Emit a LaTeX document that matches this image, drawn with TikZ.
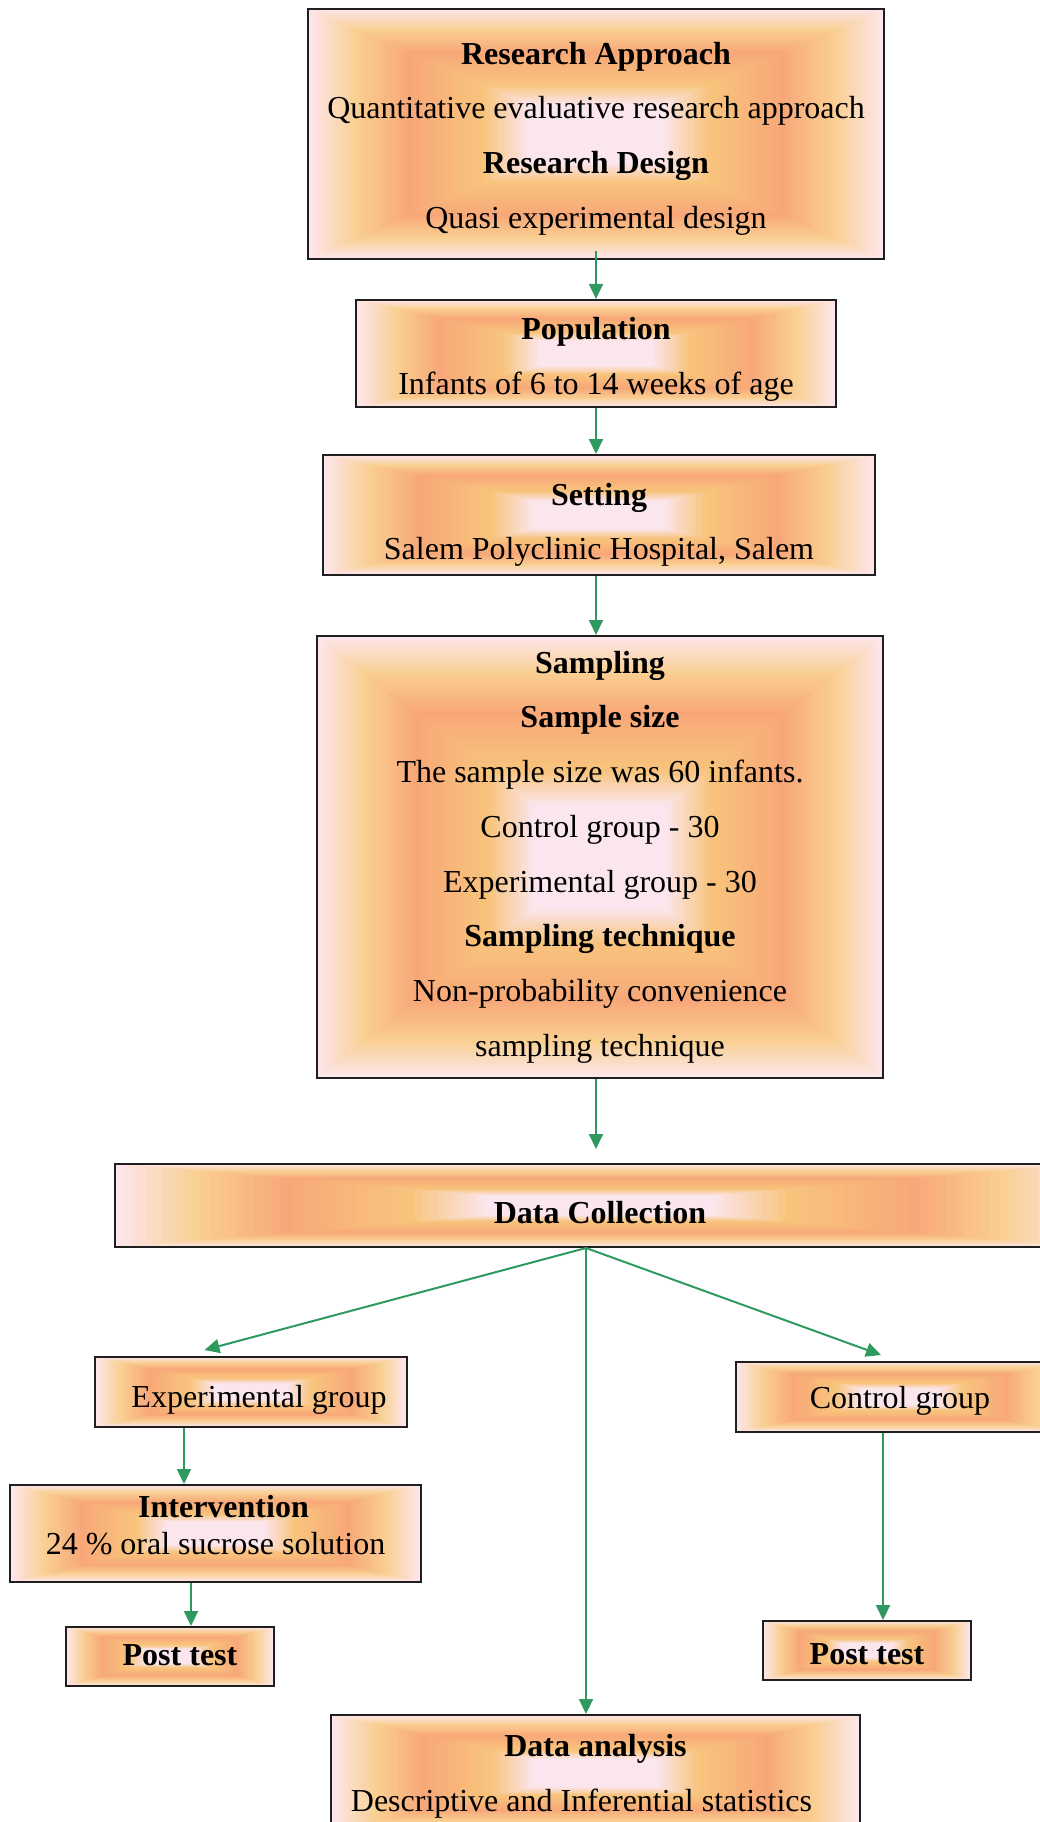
\documentclass[tikz,border=0pt]{standalone}
\usepackage{fontspec}
\setmainfont{Liberation Serif}
\usepackage{tikz}
\usetikzlibrary{arrows.meta,calc}

\definecolor{edgepink}{HTML}{FDE6EA}
\definecolor{peachlight}{HTML}{F9CF92}
\definecolor{salmon}{HTML}{F8A878}
\definecolor{peachwarm}{HTML}{F8C47C}
\definecolor{centerpink}{HTML}{FCE6EE}
\definecolor{flowgreen}{HTML}{2F9A5F}

\tikzset{
  peachbox/.style={draw=black!88, line width=2pt, inner sep=6pt, align=center,
    font=\fontsize{32}{54.7}\selectfont,
    path picture={
      \foreach \ta/\tb/\ca/\cb in {0/0.08/edgepink/peachlight,0.08/0.17/peachlight/salmon,
        0.17/0.30/salmon/peachwarm,0.30/0.38/peachwarm/centerpink,0.38/0.5/centerpink/centerpink}{
        \foreach \k in {0,...,9}{
          \pgfmathsetmacro\t{\ta+(\tb-\ta)*\k/10}
          \pgfmathtruncatemacro\p{100-\k*10}
          \fill[\ca!\p!\cb]
            ($(path picture bounding box.south west)!\t!(path picture bounding box.north east)$)
            rectangle
            ($(path picture bounding box.north east)!\t!(path picture bounding box.south west)$);
        }
      }
    }},
  % #1 = number of extra lines, #2 = how far the text goes down
  tdown/.style 2 args={text height={22pt+(#1)*54.7pt+2*(#2)}},
  flow/.style={draw=flowgreen, line width=2pt, -{Triangle[length=15pt,width=14pt]}}
}

\begin{document}
\begin{tikzpicture}[x=1pt, y=-1pt]
  \useasboundingbox (0,0) rectangle (1040,1822);

  % main column
  \node[peachbox, tdown={3}{4.6}, minimum width=576pt, minimum height=250pt] (ra) at (596,134)
    {\textbf{Research Approach}\\Quantitative evaluative research approach\\
     \textbf{Research Design}\\Quasi experimental design};
  \node[peachbox, tdown={1}{5.8}, minimum width=480pt, minimum height=107pt] (pop) at (596,353.5)
    {\textbf{Population}\\Infants of 6 to 14 weeks of age};
  \node[peachbox, tdown={1}{10}, minimum width=552pt, minimum height=120pt] (set) at (599,515)
    {\textbf{Setting}\\Salem Polyclinic Hospital, Salem};
  \node[peachbox, minimum width=566pt, minimum height=442pt] (samp) at (600,857)
    {\textbf{Sampling}\\\textbf{Sample size}\\The sample size was 60 infants.\\
     Control group - 30\\Experimental group - 30\\\textbf{Sampling technique}\\
     Non-probability convenience\\sampling technique};
  \node[peachbox, tdown={0}{7}, minimum width=970pt, minimum height=83pt] (dc) at (600,1205.5)
    {\textbf{Data Collection}};

  % groups
  \node[peachbox, tdown={0}{8}, minimum width=312pt, minimum height=70pt] (exp) at (251,1392)
    {\hspace*{16pt}Experimental group};
  \node[peachbox, tdown={0}{3.5}, minimum width=328pt, minimum height=70pt] (ctrl) at (900,1397)
    {Control group};
  \node[peachbox, text height={22pt+37pt-16pt}, minimum width=411pt, minimum height=97pt,
        font=\fontsize{32}{37}\selectfont] (int) at (215.5,1533.5)
    {\hspace*{16pt}\textbf{Intervention}\\24 \% oral sucrose solution};
  \node[peachbox, tdown={0}{-2}, minimum width=208pt, minimum height=59pt] (posta) at (170,1656.5)
    {\hspace*{20pt}\textbf{Post test}};
  \node[peachbox, tdown={0}{3.5}, minimum width=208pt, minimum height=59pt] (postb) at (867,1650.5)
    {\textbf{Post test}};
  \node[peachbox, tdown={1}{3.5}, minimum width=529pt, minimum height=116pt] (da) at (595.5,1773)
    {\textbf{Data analysis}\\\hspace*{-28pt}Descriptive and Inferential statistics};

  % connectors
  \draw[flow] ([yshift=9pt]ra.south) -- (ra.south |- pop.north);
  \draw[flow] (pop.south) -- (pop.south |- set.north);
  \draw[flow] (pop.south |- set.south) -- (pop.south |- samp.north);
  \draw[flow, shorten >=14pt] (ra.south |- samp.south) -- (ra.south |- dc.north);

  \coordinate (hub) at ([xshift=-14pt]dc.south);
  \draw[flow] (hub) -- ([xshift=-46.5pt,yshift=6pt]exp.north);
  \draw[flow] (hub) -- ([xshift=-19pt,yshift=6pt]ctrl.north);
  \draw[flow] (hub) -- (hub |- da.north);

  \draw[flow] ([xshift=-67pt]exp.south) -- ([xshift=-67pt]exp.south |- int.north);
  \draw[flow] ([xshift=-24.5pt]int.south) -- ([xshift=-24.5pt]int.south |- posta.north);
  \draw[flow] ([xshift=-17pt]ctrl.south) -- ([xshift=-17pt]ctrl.south |- postb.north);
\end{tikzpicture}
\end{document}
